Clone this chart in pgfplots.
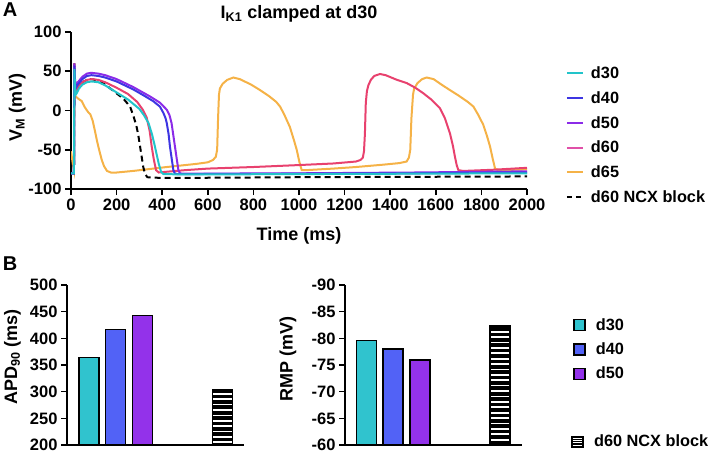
\documentclass[border=0pt]{standalone}
\usepackage{fontspec}
\setmainfont{Liberation Sans}
\usepackage{pgfplots}
\pgfplotsset{compat=1.18}
\definecolor{tC}{HTML}{22C4CA}
\definecolor{tB}{HTML}{3D35E2}
\definecolor{tP}{HTML}{8B2BE8}
\definecolor{tR}{HTML}{E8416E}
\definecolor{tRL}{HTML}{E050A8}
\definecolor{tO}{HTML}{F5B247}
\definecolor{bC}{HTML}{30C3CE}
\definecolor{bB}{HTML}{5262F6}
\definecolor{bP}{HTML}{9332EA}
\begin{document}
\bfseries
\begin{tikzpicture}[x=1pt,y=1pt]
\path[use as bounding box] (0,0) rectangle (708,453);
\pgfplotsset{
  every axis/.append style={
    scale only axis,
    axis x line*=bottom, axis y line*=left,
    axis line style={line width=1.8pt},
    every tick/.style={line width=1.5pt, black},
    tick align=outside, major tick length=6pt,
    tick label style={font=\fontsize{16.5}{18}\selectfont\bfseries},
    label style={font=\fontsize{18}{20}\selectfont\bfseries},
    /pgf/number format/assume math mode=true,
    /pgf/number format/1000 sep={},
    legend cell align=left,
  }
}
\node[font=\fontsize{20}{22}\selectfont\bfseries] at (10,443) {A};
\node[font=\fontsize{20}{22}\selectfont\bfseries] at (10,189.5) {B};
% ---------------- Panel A ----------------
\begin{axis}[
  at={(71pt,264pt)}, anchor=south west,
  width=456pt, height=157pt,
  xmin=0, xmax=2000, ymin=-100, ymax=100,
  xtick={0,200,...,2000}, ytick={-100,-50,0,50,100},
  title={I\textsubscript{K1} clamped at d30},
  title style={font=\fontsize{18}{20}\selectfont\bfseries, at={(rel axis cs:0.5,1)}, anchor=base, yshift=7pt},
  xlabel={Time (ms)},
  xlabel style={at={(rel axis cs:0.5,0)}, anchor=base, yshift=-51pt},
  ylabel={V\textsubscript{M} (mV)},
  ylabel style={at={(rel axis cs:-0.118,0.516)}, anchor=center},
  legend style={at={(rel axis cs:1.078,0.805)}, anchor=north west, draw=none, fill=none,
    font=\fontsize{16.3}{19}\selectfont\bfseries, row sep=7.4pt},
]
% d65
\addplot[tO, line width=2pt, forget plot] coordinates {
(0,-52)(5,-62)(10,-72)(13,-76)(15,30)(17,22)(20,18)(32,15)(47,12)(61,4)(75,-2)(85,-5)(95,-13)(105,-26)(115,-40)(125,-52)(135,-63)(145,-71)(158,-77)(175,-79)(200,-79)(272,-77)(420,-72)(550,-68)(600,-66)(623,-63)(635,-59)(641,-50)(645,-10)(649,20)(653,28)(665,34)(685,39)(712,42)(740,40)(790,33)(829,26)(870,18)(900,11)(917,5)(935,-5)(960,-21)(978,-38)(990,-50)(1002,-66)(1012,-76)(1030,-76)(1150,-74)(1250,-72)(1370,-69)(1440,-67)(1472,-65)(1482,-60)(1488,-50)(1493,-10)(1500,20)(1505,28)(1520,35)(1540,40)(1560,42)(1590,40)(1630,32)(1662,26)(1700,19)(1740,11)(1765,5)(1785,-5)(1808,-18)(1825,-33)(1838,-46)(1850,-62)(1860,-74)(1875,-76)(2000,-75)};
% d60 NCX block
\addplot[black, line width=2pt, dash pattern=on 6pt off 4pt, forget plot] coordinates {
(0,-80)(13,-80)(15,60)(17,40)(20,25)(30,30)(50,36)(70,39)(90,40)(120,38)(150,33)(186,25)(230,15)(259,5)(275,-8)(288,-21)(296,-33)(303,-46)(310,-59)(317,-72)(325,-81)(335,-85)(400,-86)(1000,-85)(2000,-84)};
% d60
\addplot[tR, line width=2pt, forget plot] coordinates {
(0,-80)(13,-80)(15,60)(17,40)(20,25)(30,30)(50,36)(70,39)(90,40)(120,39)(150,36)(200,29)(250,21)(290,11)(315,1)(332,-9)(345,-26)(354,-46)(363,-62)(373,-76)(385,-79)(420,-78)(500,-76)(600,-74)(800,-72)(1000,-69.5)(1150,-67.5)(1250,-65)(1270,-63)(1280,-60)(1285,-52)(1289,-30)(1293,10)(1298,25)(1304,32)(1315,39)(1330,44)(1355,46.5)(1380,45)(1430,39)(1472,35)(1510,29)(1545,22)(1580,14)(1618,3)(1640,-10)(1662,-29)(1675,-45)(1684,-59)(1692,-70)(1699,-76)(1720,-77)(1850,-75.5)(2000,-73)};
% d50
\addplot[tP, line width=2pt, forget plot] coordinates {
(0,-80)(13,-80)(15,60)(17,42)(20,30)(30,36)(50,43)(70,47)(88,48)(120,47)(150,45)(200,40)(272,30)(346,18)(390,10)(420,1)(432,-6)(441,-16)(448,-30)(456,-46)(464,-62)(471,-76)(478,-80)(490,-80.5)(1000,-80)(1500,-79)(2000,-77.5)};
% d40
\addplot[tB, line width=2pt, forget plot] coordinates {
(0,-80)(13,-80)(15,57)(17,40)(20,28)(30,33)(50,40)(70,44)(90,45)(120,44)(150,42)(200,37)(272,27)(320,19)(360,12)(390,5)(405,-3)(415,-10)(420,-16)(428,-30)(434,-46)(442,-62)(449,-76)(455,-80)(465,-81)(1000,-80.5)(1500,-80)(2000,-79)};
% d30
\addplot[tC, line width=2pt, forget plot] coordinates {
(0,-80)(13,-80)(15,53)(17,35)(20,20)(25,22)(35,28)(50,33)(70,36)(90,37)(120,36)(150,32)(200,23)(250,14)(300,2)(320,-6)(340,-16)(355,-30)(365,-42)(375,-55)(385,-68)(395,-78)(405,-81)(500,-81.5)(1000,-81)(1500,-80.5)(2000,-80)};
\addlegendimage{legend image code/.code={\draw[tC, line width=2pt] (0pt,0pt) -- (16pt,0pt); \path (22pt,0pt);}}
\addlegendentry{d30}
\addlegendimage{legend image code/.code={\draw[tB, line width=2pt] (0pt,0pt) -- (16pt,0pt); \path (22pt,0pt);}}
\addlegendentry{d40}
\addlegendimage{legend image code/.code={\draw[tP, line width=2pt] (0pt,0pt) -- (16pt,0pt); \path (22pt,0pt);}}
\addlegendentry{d50}
\addlegendimage{legend image code/.code={\draw[tRL, line width=2pt] (0pt,0pt) -- (16pt,0pt); \path (22pt,0pt);}}
\addlegendentry{d60}
\addlegendimage{legend image code/.code={\draw[tO, line width=2pt] (0pt,0pt) -- (16pt,0pt); \path (22pt,0pt);}}
\addlegendentry{d65}
\addlegendimage{legend image code/.code={\draw[black, line width=2pt, dash pattern=on 5pt off 4pt] (0pt,0pt) -- (16pt,0pt); \path (22pt,0pt);}}
\addlegendentry{d60 NCX block}
\end{axis}
% ---------------- Panel B left ----------------
\begin{axis}[
  at={(67pt,8pt)}, anchor=south west,
  width=177pt, height=160pt,
  xmin=-0.82, xmax=5.8, ymin=200, ymax=500,
  xtick=\empty, ytick={200,250,...,500},
  ylabel={APD\textsubscript{90} (ms)},
  ylabel style={at={(rel axis cs:-0.308,0.55)}, anchor=center},
  legend style={at={(rel axis cs:2.83,0.02)}, anchor=west, draw=none, fill=none,
    font=\fontsize{16.3}{19}\selectfont\bfseries},
]
\addplot[ybar, bar width=20pt, bar shift=0pt, fill=bC, draw=black, line width=1.5pt, forget plot] coordinates {(0,364)};
\addplot[ybar, bar width=20pt, bar shift=0pt, fill=bB, draw=black, line width=1.5pt, forget plot] coordinates {(1,417)};
\addplot[ybar, bar width=20pt, bar shift=0pt, fill=bP, draw=black, line width=1.5pt, forget plot] coordinates {(2,443)};
\addplot[ybar, bar width=20pt, bar shift=0pt, fill=black, draw=black, line width=1.5pt, forget plot] coordinates {(5,303)};
% white stripes of the hatched bar
\addplot[only marks, mark=-, mark size=9.2pt, mark options={white, line width=1.7pt}, forget plot] coordinates {
(5,205.0)(5,215.1)(5,225.3)(5,235.4)(5,245.5)(5,255.6)(5,265.8)(5,275.9)(5,286.0)(5,296.1)};
\addlegendimage{legend image code/.code={\draw[fill=black, draw=black, line width=1.5pt] (0pt,-5.5pt) rectangle (11pt,5.5pt); \draw[white, line width=0.9pt] (0.8pt,-3.3pt) -- (10.2pt,-3.3pt) (0.8pt,-1.1pt) -- (10.2pt,-1.1pt) (0.8pt,1.1pt) -- (10.2pt,1.1pt) (0.8pt,3.3pt) -- (10.2pt,3.3pt); \path (20pt,0pt);}}
\addlegendentry{d60 NCX block}
\end{axis}
% ---------------- Panel B right ----------------
\begin{axis}[
  at={(345pt,8pt)}, anchor=south west,
  width=177pt, height=160pt,
  xmin=-0.8, xmax=5.82, ymin=-90, ymax=-60, y dir=reverse,
  xtick=\empty, ytick={-90,-85,...,-60},
  ylabel={RMP (mV)},
  ylabel style={at={(rel axis cs:-0.322,0.54)}, anchor=center},
  legend style={at={(rel axis cs:1.27,0.817)}, anchor=north west, draw=none, fill=none,
    font=\fontsize{16.3}{19}\selectfont\bfseries, row sep=7pt},
]
\addplot[ybar, bar width=20pt, bar shift=0pt, fill=bC, draw=black, line width=1.5pt, forget plot] coordinates {(0,-79.6)};
\addplot[ybar, bar width=20pt, bar shift=0pt, fill=bB, draw=black, line width=1.5pt, forget plot] coordinates {(1,-78.0)};
\addplot[ybar, bar width=20pt, bar shift=0pt, fill=bP, draw=black, line width=1.5pt, forget plot] coordinates {(2,-75.9)};
\addplot[ybar, bar width=20pt, bar shift=0pt, fill=black, draw=black, line width=1.5pt, forget plot] coordinates {(5,-82.3)};
% white stripes of the hatched bar
\addplot[only marks, mark=-, mark size=9.2pt, mark options={white, line width=1.7pt}, forget plot] coordinates {
(5,-61.00)(5,-62.01)(5,-63.03)(5,-64.04)(5,-65.05)(5,-66.06)(5,-67.08)(5,-68.09)(5,-69.10)(5,-70.11)(5,-71.13)(5,-72.14)(5,-73.15)(5,-74.16)(5,-75.18)(5,-76.19)(5,-77.20)(5,-78.21)(5,-79.23)(5,-80.24)(5,-81.25)};
\addlegendimage{legend image code/.code={\draw[fill=bC, draw=black, line width=1.5pt] (0pt,-5.5pt) rectangle (11pt,5.5pt); \path (20pt,0pt);}}
\addlegendentry{d30}
\addlegendimage{legend image code/.code={\draw[fill=bB, draw=black, line width=1.5pt] (0pt,-5.5pt) rectangle (11pt,5.5pt); \path (20pt,0pt);}}
\addlegendentry{d40}
\addlegendimage{legend image code/.code={\draw[fill=bP, draw=black, line width=1.5pt] (0pt,-5.5pt) rectangle (11pt,5.5pt); \path (20pt,0pt);}}
\addlegendentry{d50}
\end{axis}
\end{tikzpicture}
\end{document}
